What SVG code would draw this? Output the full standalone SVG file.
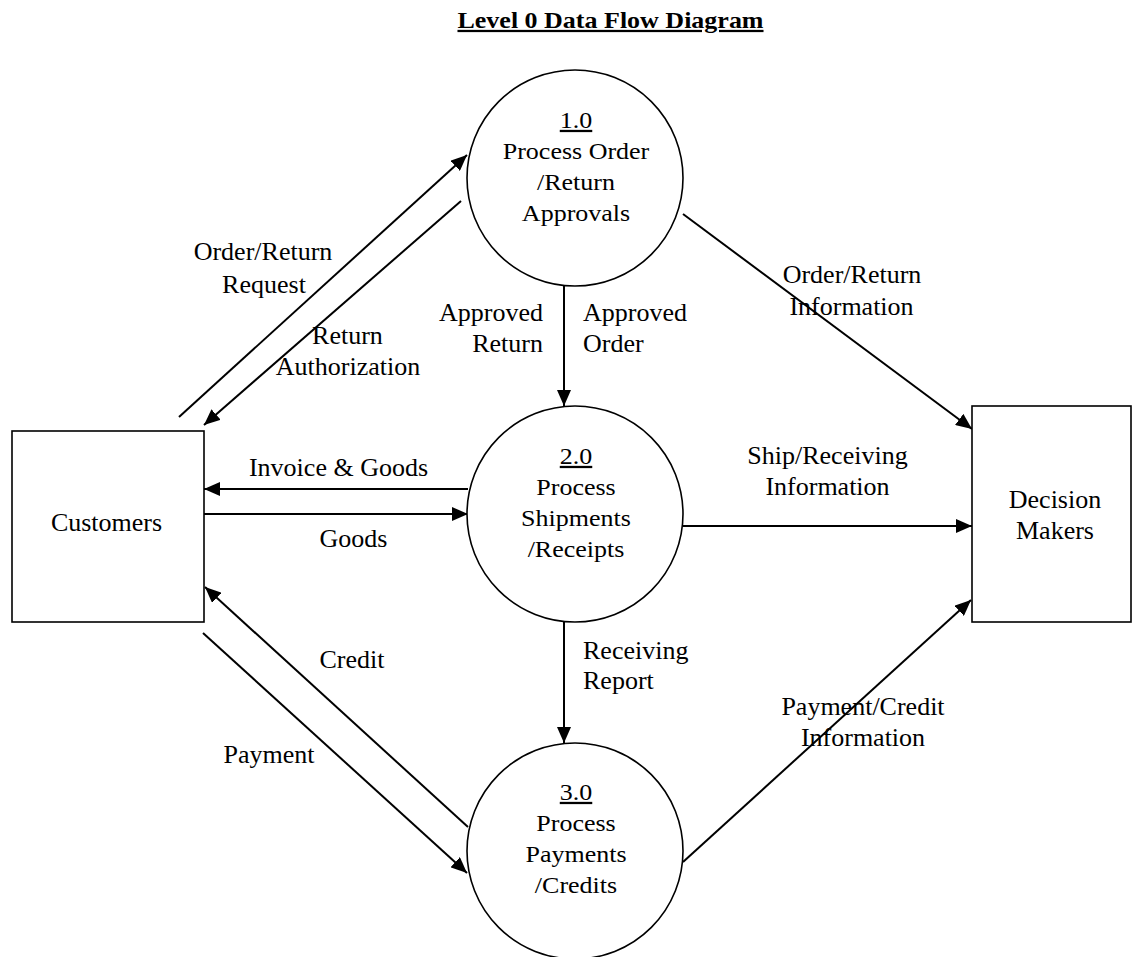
<svg xmlns="http://www.w3.org/2000/svg" width="1132" height="957" viewBox="0 0 1132 957">
<style>
  .t { font-family: "Liberation Serif", "Times New Roman", serif; font-size: 26px; fill: #000; }
  .c { text-anchor: middle; }
  .s { text-anchor: start; }
  .e { text-anchor: end; }
  .u { text-decoration: underline; }
  .node { fill: #fff; stroke: #000; stroke-width: 1.6; }
  .flow { stroke: #000; stroke-width: 2; fill: none; marker-end: url(#ah); }
</style>
<defs>
  <marker id="ah" markerUnits="userSpaceOnUse" markerWidth="16" markerHeight="14" refX="16" refY="7" orient="auto">
    <path d="M0,0 L16,7 L0,14 z" fill="#000"/>
  </marker>
</defs>
<rect width="1132" height="957" fill="#fff"/>

<g id="title">
  <text class="t c u" style="font-weight:bold" transform="matrix(1 0 0 0.87 610.5 28)" x="0" y="0">Level 0 Data Flow Diagram</text>
</g>

<g id="connectors">
  <line class="flow" x1="179" y1="417" x2="467" y2="155"/>
  <line class="flow" x1="461" y1="201" x2="204" y2="425"/>
  <line class="flow" x1="564" y1="286" x2="564" y2="406"/>
  <line class="flow" x1="683" y1="214" x2="972" y2="429"/>
  <line class="flow" x1="468" y1="489" x2="204" y2="489"/>
  <line class="flow" x1="204" y1="514" x2="468" y2="514"/>
  <line class="flow" x1="683" y1="526" x2="972" y2="526"/>
  <line class="flow" x1="564" y1="622" x2="564" y2="743"/>
  <line class="flow" x1="468" y1="827" x2="205" y2="587"/>
  <line class="flow" x1="203" y1="633" x2="467" y2="873"/>
  <line class="flow" x1="683" y1="862" x2="971" y2="600"/>
</g>

<g id="node-1">
  <circle class="node" cx="575" cy="178" r="108"/>
  <text class="t c u" transform="matrix(1 0 0 0.87 576 128)">1.0</text>
  <text class="t c" transform="matrix(1 0 0 0.87 576 159)">Process Order</text>
  <text class="t c" transform="matrix(1 0 0 0.87 576 190)">/Return</text>
  <text class="t c" transform="matrix(1 0 0 0.87 576 221)">Approvals</text>
</g>

<g id="node-2">
  <circle class="node" cx="575" cy="514" r="108"/>
  <text class="t c u" transform="matrix(1 0 0 0.87 576 464)">2.0</text>
  <text class="t c" transform="matrix(1 0 0 0.87 576 495)">Process</text>
  <text class="t c" transform="matrix(1 0 0 0.87 576 526)">Shipments</text>
  <text class="t c" transform="matrix(1 0 0 0.87 576 557)">/Receipts</text>
</g>

<g id="node-3">
  <circle class="node" cx="575" cy="851" r="108"/>
  <text class="t c u" transform="matrix(1 0 0 0.87 576 800)">3.0</text>
  <text class="t c" transform="matrix(1 0 0 0.87 576 831)">Process</text>
  <text class="t c" transform="matrix(1 0 0 0.87 576 862)">Payments</text>
  <text class="t c" transform="matrix(1 0 0 0.87 576 893)">/Credits</text>
</g>

<g id="customers">
  <rect class="node" x="12" y="431" width="192" height="191"/>
  <text class="t c" x="106.5" y="531">Customers</text>
</g>

<g id="decision-makers">
  <rect class="node" x="972" y="406" width="159" height="216"/>
  <text class="t c" x="1055" y="508">Decision</text>
  <text class="t c" x="1055" y="539">Makers</text>
</g>

<g id="labels">
  <text class="t c" x="263" y="260">Order/Return</text>
  <text class="t c" x="264" y="293">Request</text>
  <text class="t c" x="347.5" y="344">Return</text>
  <text class="t c" x="348" y="375">Authorization</text>
  <text class="t e" x="543" y="321">Approved</text>
  <text class="t e" x="543" y="352">Return</text>
  <text class="t s" x="583" y="321">Approved</text>
  <text class="t s" x="583" y="352">Order</text>
  <text class="t c" x="852" y="283">Order/Return</text>
  <text class="t c" x="851.5" y="315">Information</text>
  <text class="t c" x="338.5" y="476">Invoice &amp; Goods</text>
  <text class="t c" x="353.5" y="547">Goods</text>
  <text class="t c" x="827.5" y="464">Ship/Receiving</text>
  <text class="t c" x="827.5" y="495">Information</text>
  <text class="t s" x="583" y="659">Receiving</text>
  <text class="t s" x="583" y="689">Report</text>
  <text class="t c" x="352" y="668">Credit</text>
  <text class="t c" x="269" y="763">Payment</text>
  <text class="t c" x="863" y="715">Payment/Credit</text>
  <text class="t c" x="863" y="746">Information</text>
</g>
</svg>
